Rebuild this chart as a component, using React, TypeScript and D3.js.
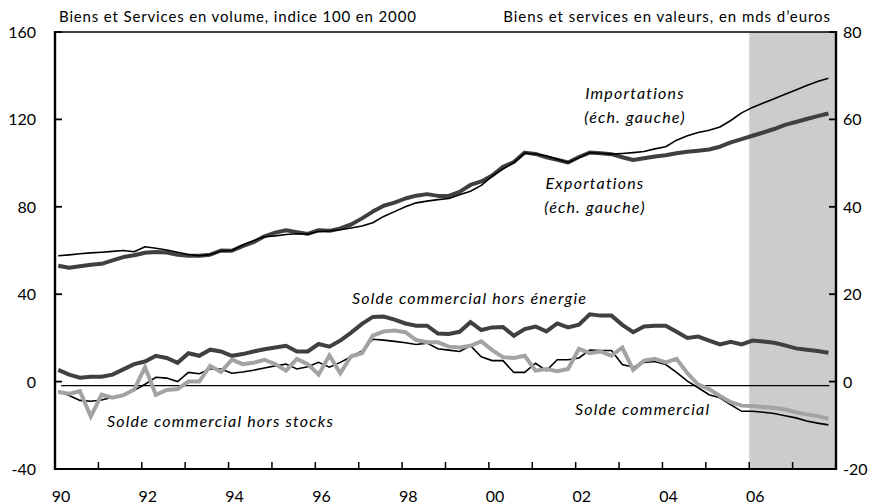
import React from "react";
import * as d3 from "d3";

// Quarterly data 1990Q1 .. 2007Q4 (72 points)
const startYear = 1990;
const importations = [57.6,58.0,58.5,58.9,59.2,59.6,60.0,59.4,61.7,61.0,60.2,59.2,58.2,57.6,58.1,59.8,60.0,62.5,64.5,66.3,66.7,67.3,67.7,67.5,68.7,68.9,69.5,70.3,71.2,72.7,75.6,77.8,80.0,81.8,82.6,83.3,83.8,85.5,87.1,89.8,94.0,97.3,100.2,104.6,104.2,103.3,101.8,100.3,102.5,104.8,104.5,104.1,104.4,104.8,105.3,106.5,107.5,110.5,112.5,114.0,115.0,116.5,119.5,123.0,125.5,127.5,129.5,131.5,133.5,135.5,137.3,138.8];
const exportations = [53.0,52.1,52.8,53.5,53.9,55.5,57.0,57.8,59.0,59.3,59.1,58.0,57.6,57.6,58.1,60.0,59.9,62.0,63.8,66.5,68.2,69.3,68.4,67.6,69.3,69.0,70.1,71.9,74.7,77.8,80.5,81.9,83.8,85.1,85.8,85.0,85.0,86.8,90.0,91.6,94.3,98.3,100.5,104.8,104.2,102.6,101.5,100.3,102.8,104.8,104.5,104.1,102.7,101.4,102.2,103.0,103.6,104.5,105.2,105.7,106.2,107.5,109.5,111.0,112.5,114.0,115.6,117.5,118.8,120.2,121.5,122.7];
const soldeHorsEnergie = [2.7,1.6,0.9,1.1,1.1,1.6,2.8,4.0,4.6,5.9,5.4,4.3,6.5,5.9,7.3,6.9,5.9,6.3,6.9,7.4,7.8,8.2,6.9,6.9,8.6,8.0,9.4,11.2,13.2,14.8,14.9,14.2,13.3,12.8,12.8,11.0,10.9,11.4,13.6,11.8,12.4,12.5,10.5,12.0,12.6,11.5,13.3,12.4,13.0,15.4,15.1,15.1,13.0,11.3,12.6,12.8,12.8,11.4,10.0,10.3,9.4,8.5,9.1,8.5,9.4,9.2,8.9,8.3,7.6,7.3,7.0,6.6];
const soldeHorsStocks = [-2.4,-2.8,-2.2,-8.0,-3.0,-3.7,-3.1,-1.8,3.3,-3.0,-1.9,-1.7,0.0,0.0,3.6,2.2,5.0,4.0,4.3,5.0,4.0,2.5,5.2,4.0,1.6,6.0,1.9,5.8,6.5,10.5,11.5,11.7,11.3,9.5,9.0,9.0,8.0,7.8,8.2,9.2,7.2,5.6,5.4,5.9,2.5,2.9,2.4,2.9,7.5,6.5,6.9,5.9,7.8,2.7,4.8,5.2,4.4,5.2,1.9,-0.7,-1.7,-3.3,-4.7,-5.5,-5.6,-5.8,-6.0,-6.4,-7.0,-7.5,-7.9,-8.5];
const soldeCommercial = [-2.2,-3.2,-4.3,-4.5,-4.2,-3.6,-3.2,-2.0,-0.6,1.0,0.8,0.0,2.1,1.8,2.9,2.9,1.9,2.2,2.6,3.1,3.6,4.0,2.9,3.4,4.4,3.3,4.4,5.7,7.0,9.7,9.5,9.2,8.9,8.5,8.8,7.5,7.2,6.9,8.2,5.7,4.8,4.8,2.1,2.1,4.2,2.5,5.0,5.0,5.4,7.2,7.1,7.1,3.9,3.3,4.4,4.6,3.9,2.1,0.1,-1.4,-3.0,-3.7,-5.3,-6.8,-6.8,-7.0,-7.3,-7.8,-8.3,-9.0,-9.5,-9.9];

const leftTicks = [160, 120, 80, 40, 0, -40];
const rightTicks = [80, 60, 40, 20, 0, -20];
const yearLabels = ["90", "92", "94", "96", "98", "00", "02", "04", "06"];
const labelYears = [1990, 1992, 1994, 1996, 1998, 2000, 2002, 2004, 2006];
const minorYears = d3.range(1991, 2008);
const forecastStart = 2006;
const domainEnd = 2008;
const zeroLineValue = -1.8;

const W = 882, H = 504;
const L = 55, R = 836, T = 32, B = 469;
const font = "Lato, 'Open Sans', sans-serif";

export default function App() {
  const x = d3.scaleLinear().domain([startYear, domainEnd]).range([L, R]);
  const yL = d3.scaleLinear().domain([-40, 160]).range([B, T]);
  const yR = d3.scaleLinear().domain([-20, 80]).range([B, T]);
  const t = (i: number) => startYear + (i + 0.3) / 4;

  const lineL = d3.line<number>().x((_, i) => x(t(i))).y((d) => yL(d));
  const lineR = d3.line<number>().x((_, i) => x(t(i))).y((d) => yR(d));

  const dark = "#404040";
  const gray = "#a3a3a3";

  return (
    <svg width={W} height={H} style={{ position: "absolute", left: 0, top: 0, background: "#fff" }} fontFamily={font}>
      <rect x={x(forecastStart)} y={T} width={x(domainEnd) - x(forecastStart)} height={B - T} fill="#cccccc" />
      {/* zero line */}
      <line x1={x(t(0)) + 3} x2={x(t(71)) + 1} y1={yL(zeroLineValue)} y2={yL(zeroLineValue)} stroke="#000" strokeWidth={1.2} />
      {/* series */}
      <path d={lineL(exportations) || ""} fill="none" stroke={dark} strokeWidth={4} strokeLinejoin="round" />
      <path d={lineL(importations) || ""} fill="none" stroke="#000" strokeWidth={1.6} strokeLinejoin="round" />
      <path d={lineR(soldeHorsEnergie) || ""} fill="none" stroke={dark} strokeWidth={4} strokeLinejoin="miter" />
      <path d={lineR(soldeCommercial) || ""} fill="none" stroke="#000" strokeWidth={1.6} strokeLinejoin="miter" />
      <path d={lineR(soldeHorsStocks) || ""} fill="none" stroke={gray} strokeWidth={4} strokeLinejoin="miter" />
      {/* frame */}
      <line x1={L} x2={R} y1={T} y2={T} stroke="#000" strokeWidth={1.5} />
      <line x1={L} x2={R} y1={B} y2={B} stroke="#000" strokeWidth={2.2} />
      <line x1={L} x2={L} y1={T - 1} y2={B + 1} stroke="#000" strokeWidth={2.4} />
      <line x1={R} x2={R} y1={T - 1} y2={B + 1} stroke="#000" strokeWidth={2.4} />
      {leftTicks.map((v) => (
        <g key={"l" + v}>
          <line x1={L} x2={L + 7} y1={yL(v)} y2={yL(v)} stroke="#000" strokeWidth={1.8} />
          <text x={36} y={yL(v) + 6} textAnchor="end" fontSize={16} fill="#000">{v}</text>
        </g>
      ))}
      {rightTicks.map((v) => (
        <g key={"r" + v}>
          <line x1={R - 7} x2={R} y1={yR(v)} y2={yR(v)} stroke="#000" strokeWidth={1.8} />
          <text x={R + 7} y={yR(v) + 6} textAnchor="start" fontSize={16} fill="#000">{v}</text>
        </g>
      ))}
      {minorYears.map((yr) => (
        <line key={"m" + yr} x1={x(yr)} x2={x(yr)} y1={B} y2={B - 7} stroke="#000" strokeWidth={1.5} />
      ))}
      {labelYears.map((yr, i) => (
        <text key={"y" + yr} x={x(yr + 0.14)} y={502} textAnchor="middle" fontSize={16} fill="#000">{yearLabels[i]}</text>
      ))}
      {/* headers */}
      <text x={59} y={22} fontSize={15} letterSpacing={0.85} fill="#000">Biens et Services en volume, indice 100 en 2000</text>
      <text x={831} y={22} fontSize={15} letterSpacing={0.95} textAnchor="end" fill="#000">Biens et services en valeurs, en mds d’euros</text>
      {/* annotations */}
      <g fontStyle="italic" fontSize={16} letterSpacing={1.2} fill="#000">
        <text x={635} y={99} textAnchor="middle">Importations</text>
        <text x={635} y={123} textAnchor="middle">(éch. gauche)</text>
        <text x={595} y={189} textAnchor="middle">Exportations</text>
        <text x={595} y={213} textAnchor="middle">(éch. gauche)</text>
        <text x={352} y={304}>Solde commercial hors énergie</text>
        <text x={107} y={427}>Solde commercial hors stocks</text>
        <text x={575} y={415}>Solde commercial</text>
      </g>
    </svg>
  );
}
